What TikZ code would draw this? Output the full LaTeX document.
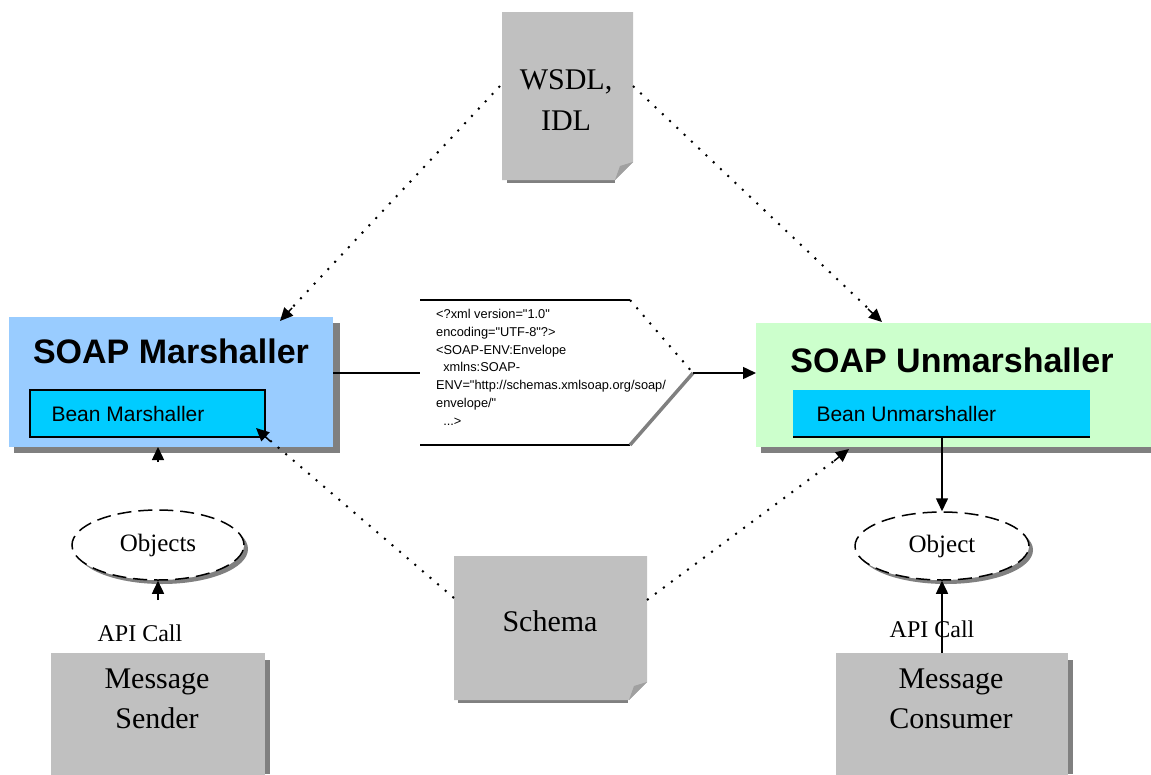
\documentclass[tikz,border=0pt]{standalone}
\usepackage{fontspec}
\setmainfont{Liberation Serif}
\newfontfamily\sansf{Liberation Sans}
\usetikzlibrary{arrows.meta,calc,shapes.geometric}
\definecolor{mblue}{HTML}{99CCFF}
\definecolor{ugreen}{HTML}{CCFFCC}
\definecolor{bcyan}{HTML}{00CCFF}
\definecolor{lgray}{HTML}{C0C0C0}
\definecolor{dgray}{HTML}{808080}
\definecolor{fgray}{HTML}{A0A0A0}
\begin{document}
\begin{tikzpicture}[x=1pt,y=-1pt,
  box/.style={anchor=north west, inner sep=0pt, outer sep=0pt},
  tip/.style={-{Triangle[length=13pt,width=12pt]}, line width=1.5pt},
  dots/.style={line width=2pt, dash pattern=on 2pt off 8pt},
  title/.style={font=\sansf\bfseries\fontsize{34}{40}\selectfont},
  bean/.style={anchor=west, font=\sansf\fontsize{21}{26}\selectfont},
  serif/.style={font=\fontsize{30}{40}\selectfont, align=center},
  small/.style={font=\fontsize{24}{28}\selectfont},
  oval/.style={ellipse, fill=white, draw=black, line width=1.5pt, dash pattern=on 14pt off 7pt, minimum width=172pt, minimum height=70pt, inner sep=0pt, font=\fontsize{25}{28}\selectfont}
]
\useasboundingbox (0,0) rectangle (1151,774);
\fill[white] (0,0) rectangle (1151,774);

% ---------- WSDL document ----------
\fill[dgray] (507,178) rectangle (615,183);
\fill[lgray] (502,12) -- (633,12) -- (633,162) -- (615,180) -- (502,180) -- cycle;
\fill[fgray] (633,162) -- (615,180) -- (620,166) -- cycle;
\node[font=\fontsize{30}{41}\selectfont, align=center] (w) at (566,100) {WSDL,\\IDL};

% ---------- Schema document ----------
\fill[dgray] (458,698) rectangle (628,703);
\fill[lgray] (454,556) -- (647,556) -- (647,682) -- (629,700) -- (454,700) -- cycle;
\fill[fgray] (647,682) -- (629,700) -- (634,686) -- cycle;
\node[serif] (s) at (550,621) {Schema};

% ---------- SOAP Marshaller ----------
\fill[dgray] (14,323) rectangle (340,453);
\node[box, minimum width=324pt, minimum height=130pt, fill=mblue] (m) at (9,317) {};
\node[title] (mt) at (171,351) {SOAP Marshaller};
\node[box, minimum width=235pt, minimum height=47pt, fill=bcyan, draw=black, line width=2.5pt] (bm) at (30,390) {};
\node[bean] (bmt) at (48,414) {Bean Marshaller};

% ---------- SOAP Unmarshaller ----------
\fill[dgray] (761,447) rectangle (1151,453);
\node[box, minimum width=395pt, minimum height=124pt, fill=ugreen] (u) at (756,323) {};
\node[title] (ut) at (952,360) {SOAP Unmarshaller};
\node[box, minimum width=297pt, minimum height=47pt, fill=bcyan] (bu) at (793,390) {};
\draw[line width=2.5pt] (bu.south west) -- (bu.south east);
\node[bean] (but) at (813,414) {Bean Unmarshaller};

% ---------- XML message ----------
\coordinate (xl) at (420,373);
\coordinate (xt) at (630,300);
\coordinate (xr) at (693,373);
\coordinate (xb) at (630,445);
\draw[line width=2pt] (420,300) -- (xt);
\draw[line width=2pt] (420,445) -- (xb);
\draw[dots] (xt) -- (xr);
\draw[dgray, line width=3.5pt] (xr) -- (xb);
\node[anchor=north west, align=left, inner sep=0pt, font=\sansf\fontsize{12.8}{17.8}\selectfont] (xml) at (436,309)
{<?xml version="1.0"\\encoding="UTF-8"?>\\<SOAP-ENV:Envelope\\\ \ xmlns:SOAP-\\ENV="http://schemas.xmlsoap.org/soap/\\envelope/"\\\ \ ...>};

\draw[line width=2pt] (m.east |- xl) -- (xl);
\draw[tip] (xr) -- (u.west |- xr);

% ---------- Message Sender ----------
\fill[dgray] (262,660) rectangle (270,774);
\node[box, minimum width=214pt, minimum height=125pt, fill=lgray] (sd) at (51,653) {};
\node[serif] (sdt) at (157,699) {Message\\Sender};

% ---------- Message Consumer ----------
\fill[dgray] (1065,660) rectangle (1073,774);
\node[box, minimum width=232pt, minimum height=125pt, fill=lgray] (c) at (836,653) {};
\node[serif] (ct) at (951,699) {Message\\Consumer};

% ---------- Objects ----------
\fill[dgray] (162,549) ellipse [x radius=86, y radius=35];
\node[oval] (o1) at (158,545) {Objects};
\fill[dgray] (946,550) ellipse [x radius=87, y radius=34];
\node[oval, minimum width=174pt, minimum height=68pt] (o2) at (942,546) {Object};

% labels
\node[small] (l1) at (140,633) {API Call};
\node[small] (l2) at (932,629) {API Call};

% ---------- connectors ----------
\coordinate (a1) at (158,462);
\draw[tip] (a1) -- (a1 |- m.south);
\coordinate (a2) at (158,600);
\draw[tip] (a2) -- (o1.south);
\draw[tip] (bu.south -| o2.north) -- (o2.north);
\draw[tip] (c.north -| o2.south) -- (o2.south);

% dotted dependencies
\coordinate (w1) at (500,86);
\coordinate (w2) at (633,86);
\coordinate (s1) at (454,598);
\coordinate (s2) at (647,600);
\draw[dots] (w1) -- (288,312);
\draw[tip] (292,308) -- (280,321);
\draw[dots] (w2) -- (873,313);
\draw[tip] (868,309) -- (882,322);
\draw[dots] (s1) -- (266,437);
\draw[tip] (270,441) -- (256,428);
\draw[dots] (s2) -- (838,458);
\draw[tip] (834,461) -- (849,449);
\end{tikzpicture}
\end{document}
